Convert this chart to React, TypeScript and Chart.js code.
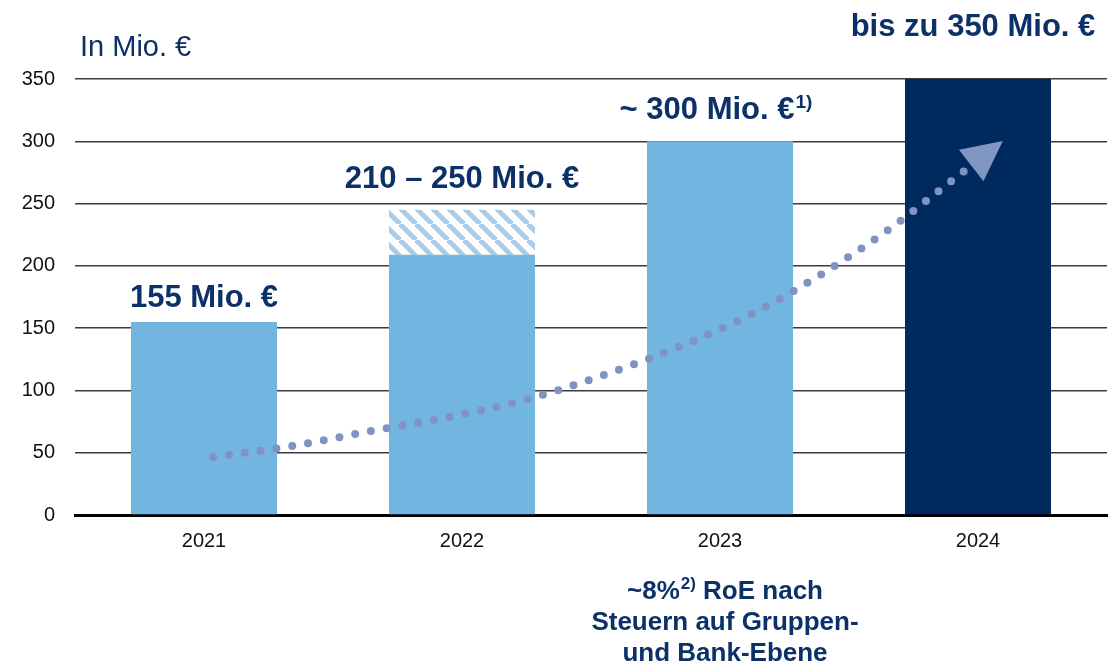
import React, { useEffect, useRef } from 'react';
import { Chart, registerables } from 'chart.js';

Chart.register(...registerables);

const YEARS = ['2021', '2022', '2023', '2024'];
const BASE_VALUES = [155, 209, 300, 350];
const RANGE_VALUES = [null, 36, null, null];
const BAR_LABELS = ['155 Mio. €', '210 – 250 Mio. €', '~ 300 Mio. €', 'bis zu 350 Mio. €'];
const BAR_LABEL_SUPS = ['', '', '1)', ''];
const CURVE_X = [0.035, 0.341, 0.647, 0.953, 1.256, 1.55, 1.841, 2.124, 2.395, 2.651, 2.946];
const CURVE_Y = [46.6, 55.4, 67.4, 78.7, 93.1, 112.4, 134.9, 161.4, 193.5, 228.8, 276.1];
const UNIT_TITLE = 'In Mio. €';
const NOTE_LINES: { t: string; sup?: boolean }[][] = [
  [{ t: '~8%' }, { t: '2)', sup: true }, { t: ' RoE nach' }],
  [{ t: 'Steuern auf Gruppen-' }],
  [{ t: 'und Bank-Ebene' }],
];
const NOTE_CATEGORY = 2;

const FONT = "'Liberation Sans', Arial, Helvetica, sans-serif";
const NAVY = '#0C3169';
const LIGHT = '#72B5E0';
const DARK = '#002A5E';
const DOTS = '#8193C2';
const LABEL_GAPS = [15, 22, 22, 43];
const LABEL_DX = [0, 0, -4, -5];

function makeHatch(): CanvasPattern | string {
  const c = document.createElement('canvas');
  c.width = 16;
  c.height = 16;
  const g = c.getContext('2d');
  if (!g) return LIGHT;
  g.fillStyle = '#ffffff';
  g.fillRect(0, 0, 16, 16);
  g.strokeStyle = '#A9CBEC';
  g.lineWidth = 5;
  g.beginPath();
  for (const o of [-16, 0, 16]) {
    g.moveTo(o, 0);
    g.lineTo(o + 16, 16);
  }
  g.stroke();
  return g.createPattern(c, 'repeat') || LIGHT;
}

function drawSegments(
  ctx: CanvasRenderingContext2D,
  segs: { t: string; sup?: boolean }[],
  cx: number,
  baseline: number,
  font: string,
  supFont: string,
  raise: number
) {
  const widths = segs.map((s) => {
    ctx.font = s.sup ? supFont : font;
    return ctx.measureText(s.t).width + (s.sup ? 1 : 0);
  });
  const total = widths.reduce((a, b) => a + b, 0);
  let x = cx - total / 2;
  ctx.textAlign = 'left';
  ctx.textBaseline = 'alphabetic';
  segs.forEach((s, i) => {
    ctx.font = s.sup ? supFont : font;
    ctx.fillText(s.t, x + (s.sup ? 1 : 0), s.sup ? baseline - raise : baseline);
    x += widths[i];
  });
}

const overlayPlugin = {
  id: 'overlay',
  afterDatasetsDraw(chart: any) {
    const ctx: CanvasRenderingContext2D = chart.ctx;
    const meta = chart.getDatasetMeta(2);
    const pts = meta.data;
    if (pts.length < 2) return;
    const a = pts[pts.length - 2];
    const b = pts[pts.length - 1];
    let dx = b.x - a.x;
    let dy = b.y - a.y;
    const len = Math.hypot(dx, dy) || 1;
    dx /= len;
    dy /= len;
    const bx = b.x + dx * 9;
    const by = b.y + dy * 9;
    const tx = bx + dx * 40;
    const ty = by + dy * 40;
    const px = -dy;
    const py = dx;
    ctx.save();
    ctx.fillStyle = '#8296C4';
    ctx.beginPath();
    ctx.moveTo(tx, ty);
    ctx.lineTo(bx + px * 20, by + py * 20);
    ctx.lineTo(bx - px * 20, by - py * 20);
    ctx.closePath();
    ctx.fill();
    ctx.restore();
  },
  afterDraw(chart: any) {
    const ctx: CanvasRenderingContext2D = chart.ctx;
    const xs = chart.scales.x;
    const ys = chart.scales.y;
    ctx.save();
    ctx.fillStyle = NAVY;
    const bold = `bold 31px ${FONT}`;
    const supBold = `bold 19px ${FONT}`;
    YEARS.forEach((_, i) => {
      const top = BASE_VALUES[i] + (RANGE_VALUES[i] || 0);
      const cx = xs.getPixelForValue(i) + LABEL_DX[i];
      const y = ys.getPixelForValue(top) - LABEL_GAPS[i];
      const segs = [{ t: BAR_LABELS[i] }];
      if (BAR_LABEL_SUPS[i]) segs.push({ t: BAR_LABEL_SUPS[i], sup: true } as any);
      drawSegments(ctx, segs, cx, y, bold, supBold, 11);
    });
    ctx.font = `29px ${FONT}`;
    ctx.textAlign = 'left';
    ctx.textBaseline = 'alphabetic';
    ctx.fillText(UNIT_TITLE, 80, 56);
    const ncx = xs.getPixelForValue(NOTE_CATEGORY) + 5;
    const noteFont = `bold 26px ${FONT}`;
    const noteSup = `bold 17px ${FONT}`;
    NOTE_LINES.forEach((segs, li) => {
      drawSegments(ctx, segs, ncx, 599 + li * 31, noteFont, noteSup, 10);
    });
    ctx.restore();
  },
};

export default function App() {
  const ref = useRef<HTMLCanvasElement | null>(null);
  useEffect(() => {
    if (!ref.current) return;
    const hatch = makeHatch();
    const chart = new Chart(ref.current, {
      type: 'bar',
      data: {
        labels: YEARS,
        datasets: [
          {
            type: 'bar',
            data: BASE_VALUES,
            backgroundColor: YEARS.map((_, i) => (i === YEARS.length - 1 ? DARK : LIGHT)),
            categoryPercentage: 1,
            barPercentage: 0.566,
            grouped: false,
            order: 2,
          } as any,
          {
            type: 'bar',
            data: RANGE_VALUES,
            backgroundColor: hatch,
            categoryPercentage: 1,
            barPercentage: 0.566,
            grouped: false,
            order: 2,
          } as any,
          {
            type: 'line',
            xAxisID: 'x2',
            stack: 'curve',
            data: CURVE_X.map((x, i) => ({ x, y: CURVE_Y[i] })),
            borderColor: DOTS,
            borderWidth: 8,
            borderDash: [0, 16],
            borderCapStyle: 'round',
            pointRadius: 0,
            cubicInterpolationMode: 'monotone',
            fill: false,
            order: 0,
          } as any,
        ],
      },
      options: {
        animation: false,
        responsive: true,
        maintainAspectRatio: false,
        layout: { padding: { left: 0, right: 10, top: 79, bottom: 0 } },
        plugins: { legend: { display: false }, tooltip: { enabled: false } },
        scales: {
          x: {
            stacked: true,
            z: 1,
            grid: { display: false, drawTicks: false },
            border: { display: true, color: '#000000', width: 3 },
            ticks: { color: '#111111', font: { family: FONT, size: 20 }, padding: 14 },
            afterFit: (s: any) => {
              s.height = 151;
            },
          },
          x2: { type: 'linear', display: false, offset: false, min: -0.5, max: 3.5 },
          y: {
            stacked: true,
            min: 0,
            max: 350,
            ticks: { stepSize: 50, color: '#111111', font: { family: FONT, size: 20 }, padding: 20 },
            grid: {
              drawTicks: false,
              color: (c: any) => (c.tick && c.tick.value === 0 ? 'rgba(0,0,0,0)' : '#3C3C3C'),
              lineWidth: 1.5,
            },
            border: { display: false },
            afterFit: (s: any) => {
              s.width = 75;
            },
          },
        },
      } as any,
      plugins: [overlayPlugin],
    });
    return () => chart.destroy();
  }, []);
  return (
    <div style={{ position: 'fixed', left: 0, top: 0, width: 1117, height: 666, background: '#ffffff' }}>
      <canvas ref={ref} />
    </div>
  );
}
